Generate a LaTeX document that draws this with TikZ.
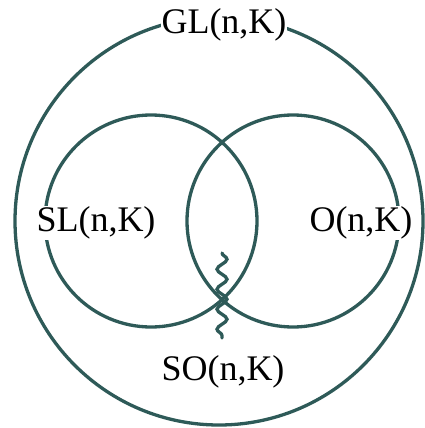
\documentclass[tikz,border=0pt]{standalone}
\usepackage{fontspec}
\setmainfont{Liberation Serif}
\usetikzlibrary{decorations.pathmorphing}
\definecolor{teal1}{HTML}{2E5A58}
\begin{document}
\begin{tikzpicture}[x=1pt,y=-1pt,
  ring/.style={draw=teal1, line width=3.3pt, circle, inner sep=0pt},
  lab/.style={fill=white, inner sep=1pt, font=\fontsize{36}{40}\selectfont},
  wave/.style={draw=teal1, line width=3.3pt, line cap=round, decorate,
    decoration={snake, amplitude=5pt, segment length=20pt}}]
\useasboundingbox (0,0) rectangle (424,428);
\node[ring, minimum size=408pt] (gl) at (219,221) {};
\node[ring, minimum size=212pt] (sl) at (151,221) {};
\node[ring, minimum size=212pt] (o) at (293,221) {};
\node[lab] (gllab) at (224,25) {GL(n,K)};
\node[lab] (sllab) at (96,223) {SL(n,K)};
\node[lab] (olab) at (361,223) {O(n,K)};
\node[lab] (solab) at (223,372) {SO(n,K)};
\coordinate (wtop) at (222,253);
\coordinate (wbot) at (222,338);
\draw[wave] (wtop) -- (wbot);
\end{tikzpicture}
\end{document}
